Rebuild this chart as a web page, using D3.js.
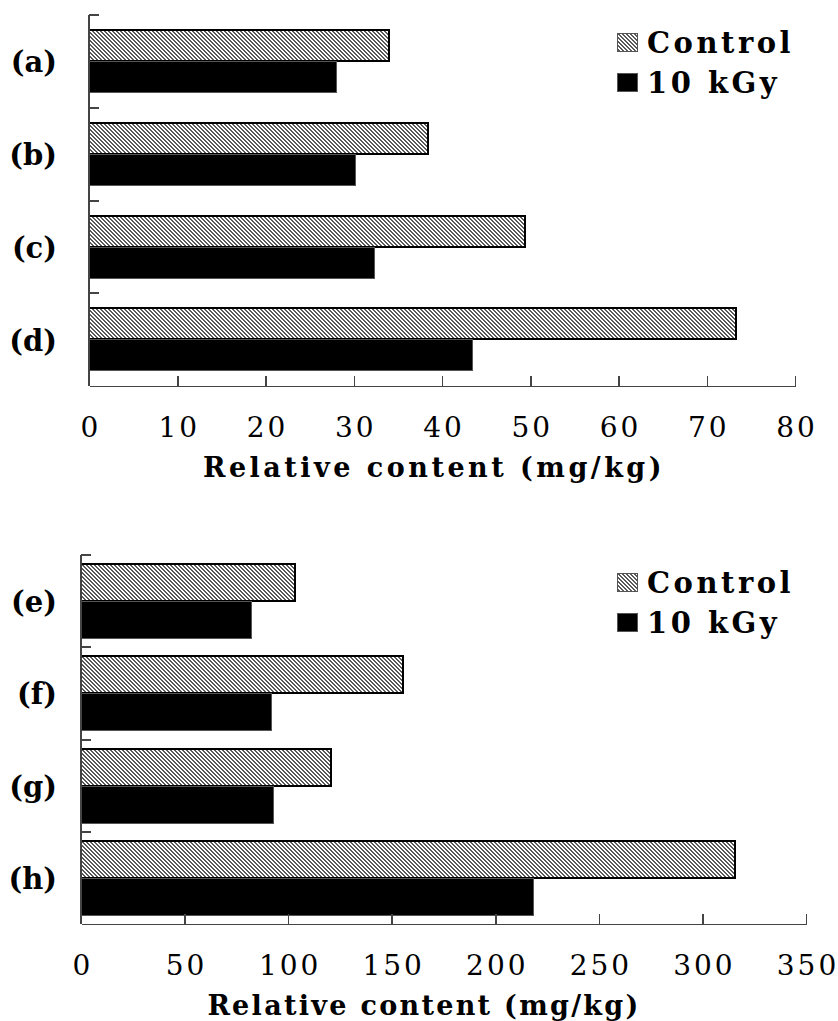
<!DOCTYPE html>
<html>
<head>
<meta charset="utf-8">
<script src="https://cdn.jsdelivr.net/npm/d3@7"></script>
<style>
  body { margin: 0; background: #fff; }
  svg { display: block; }
  .tick-label { font-family: "DejaVu Serif", serif; font-size: 28px; letter-spacing: 3px; fill: #000; }
  .axis-title { font-family: "DejaVu Serif", serif; font-weight: bold; font-size: 27px; fill: #000; }
  .cat-label { font-family: "DejaVu Serif", serif; font-weight: bold; font-size: 29px; fill: #000; }
  .legend-label { font-family: "DejaVu Serif", serif; font-weight: bold; font-size: 29px; letter-spacing: 3.5px; fill: #000; }
</style>
</head>
<body>
<div id="chart"></div>
<script>
// data
var topCategories = ["(a)", "(b)", "(c)", "(d)"];
var topControl = [34.0, 38.4, 49.4, 73.3];
var topIrradiated = [28.1, 30.2, 32.3, 43.5];
var topTicks = [0, 10, 20, 30, 40, 50, 60, 70, 80];

var bottomCategories = ["(e)", "(f)", "(g)", "(h)"];
var bottomControl = [103.5, 155.5, 120.7, 315.6];
var bottomIrradiated = [82.2, 92.1, 92.9, 218.4];
var bottomTicks = [0, 50, 100, 150, 200, 250, 300, 350];

var seriesNames = ["Control", "10 kGy"];
var axisTitle = "Relative content (mg/kg)";

var W = 838, H = 1021;

var svg = d3.select("#chart").append("svg")
    .attr("width", W)
    .attr("height", H)
    .attr("shape-rendering", "crispEdges");

svg.append("rect").attr("width", W).attr("height", H).attr("fill", "#fff");

// pixel dither hatch for the control bars (diagonal, about half covered)
var defs = svg.append("defs");
var pat = defs.append("pattern")
    .attr("id", "hatch")
    .attr("patternUnits", "userSpaceOnUse")
    .attr("width", 4)
    .attr("height", 4);
pat.append("rect").attr("width", 4).attr("height", 4).attr("fill", "#fff");
var hatchPixels = [[0, 0], [1, 0], [1, 1], [2, 1], [2, 2], [3, 2], [3, 3], [0, 3]];
pat.selectAll(".px")
    .data(hatchPixels)
    .enter().append("rect")
    .attr("x", function (d) { return d[0]; })
    .attr("y", function (d) { return d[1]; })
    .attr("width", 1)
    .attr("height", 1)
    .attr("fill", "#5a5a5a");

/*
 * draws one horizontal grouped bar panel
 */
function drawPanel(opts) {
    var rows = opts.categories.map(function (c, i) {
        return { cat: c, values: [opts.control[i], opts.irradiated[i]] };
    });

    var x = d3.scaleLinear().domain(opts.domain).range([opts.left, opts.right]);
    var y = d3.scaleBand().domain(opts.categories).range([opts.top, opts.bottom]).paddingInner(0).paddingOuter(0);
    var y1 = d3.scaleBand().domain(seriesNames).range([0, y.bandwidth()]).paddingInner(0).paddingOuter(opts.barPad);

    var g = svg.append("g");

    // bars
    var grp = g.selectAll(".grp")
        .data(rows)
        .enter().append("g")
        .attr("class", "grp")
        .attr("transform", function (d) { return "translate(0," + Math.round(y(d.cat)) + ")"; });

    grp.selectAll("rect")
        .data(function (d) { return d.values.map(function (v, i) { return { key: seriesNames[i], value: v }; }); })
        .enter().append("rect")
        .attr("x", x(0))
        .attr("y", function (d) { return Math.round(y1(d.key)); })
        .attr("width", function (d) { return x(d.value) - x(0); })
        .attr("height", Math.round(y1.bandwidth()))
        .attr("fill", function (d) { return d.key === "Control" ? "url(#hatch)" : "#000"; })
        .attr("stroke", function (d) { return d.key === "Control" ? "#000" : "#555"; })
        .attr("stroke-width", function (d) { return d.key === "Control" ? 2 : 1; });

    // category labels
    g.selectAll(".cat-label")
        .data(opts.categories)
        .enter().append("text")
        .attr("class", "cat-label")
        .attr("x", 57)
        .attr("y", function (d) { return y(d) + y.bandwidth() / 2 + 11; })
        .attr("text-anchor", "end")
        .text(function (d) { return d; });

    // y axis line + separator ticks
    g.append("line")
        .attr("x1", x(0)).attr("x2", x(0))
        .attr("y1", opts.top).attr("y2", opts.bottom)
        .attr("stroke", "#444").attr("stroke-width", 1.5);
    g.selectAll(".ytick")
        .data(opts.categories)
        .enter().append("line")
        .attr("x1", x(0)).attr("x2", x(0) + 10)
        .attr("y1", function (d) { return Math.round(y(d)); })
        .attr("y2", function (d) { return Math.round(y(d)); })
        .attr("stroke", "#444").attr("stroke-width", 1.5);

    // x axis
    var xAxis = d3.axisBottom(x).tickValues(opts.ticks).tickSizeInner(-10).tickSizeOuter(0).tickFormat(d3.format("d"));
    var ax = g.append("g")
        .attr("transform", "translate(0," + opts.bottom + ")")
        .call(xAxis);
    ax.attr("font-family", null).attr("font-size", null);
    ax.select(".domain").attr("stroke", "#444").attr("stroke-width", 1.5);
    ax.selectAll(".tick line").attr("stroke", "#444").attr("stroke-width", 1.5);
    ax.selectAll(".tick text")
        .attr("class", "tick-label")
        .attr("y", 51)
        .attr("dy", 0)
        .attr("dx", 1.5);

    // axis title
    g.append("text")
        .attr("class", "axis-title")
        .attr("x", opts.titleX)
        .attr("y", opts.bottom + 91)
        .attr("text-anchor", "middle")
        .style("letter-spacing", opts.titleSpacing + "px")
        .text(axisTitle);

    // legend
    var leg = g.append("g").attr("transform", "translate(617," + (opts.top + 18) + ")");
    leg.selectAll("rect")
        .data(seriesNames)
        .enter().append("rect")
        .attr("x", 0)
        .attr("y", function (d, i) { return i * 40; })
        .attr("width", 20)
        .attr("height", 18)
        .attr("fill", function (d, i) { return i === 0 ? "url(#hatch)" : "#000"; })
        .attr("stroke", "#555")
        .attr("stroke-width", 1);
    leg.selectAll("text")
        .data(seriesNames)
        .enter().append("text")
        .attr("class", "legend-label")
        .attr("x", 30)
        .attr("y", function (d, i) { return i * 40 + 20; })
        .text(function (d) { return d; });
}

drawPanel({
    categories: topCategories, control: topControl, irradiated: topIrradiated,
    ticks: topTicks, domain: [0, 80],
    left: 89, right: 795, top: 15, bottom: 386, barPad: 0.5, titleX: 434, titleSpacing: 3.5
});

drawPanel({
    categories: bottomCategories, control: bottomControl, irradiated: bottomIrradiated,
    ticks: bottomTicks, domain: [0, 350],
    left: 81, right: 806, top: 555, bottom: 924, barPad: 0.24, titleX: 424, titleSpacing: 2.3
});
</script>
</body>
</html>
